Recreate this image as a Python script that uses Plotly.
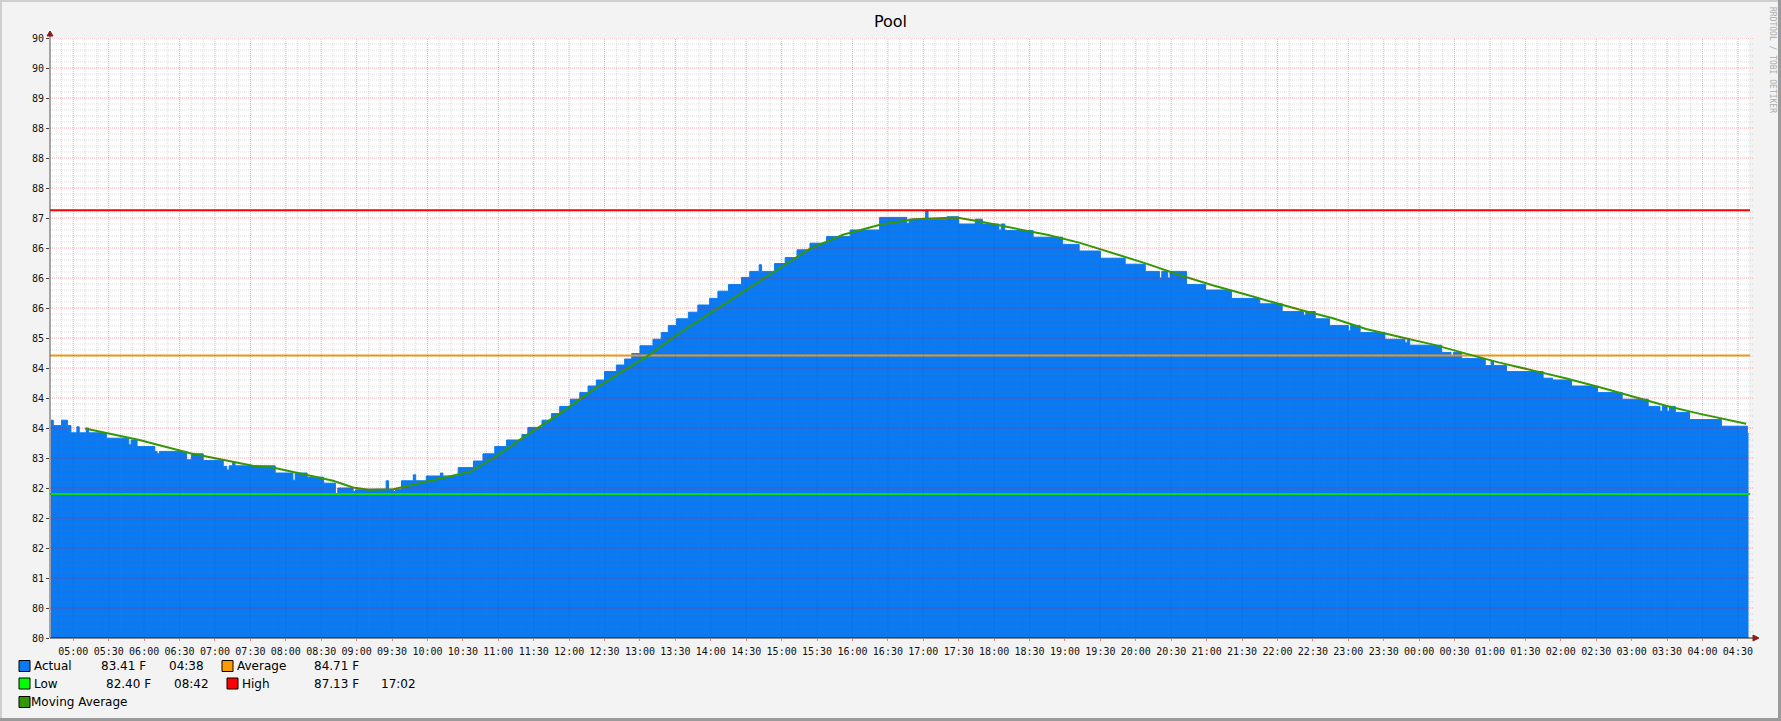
import plotly.graph_objects as go
from datetime import datetime, timedelta

# ---------------- data ----------------
ACTUAL_TIMES = [
    "04:41", "04:43", "04:50", "04:55", "04:58", "05:03", "05:05", "05:11", "05:13", "05:28",
    "05:47", "05:49", "05:54", "06:09", "06:11", "06:13", "06:36", "06:40", "06:50", "07:07",
    "07:10", "07:12", "07:15", "07:17", "07:51", "08:06", "08:08", "08:18", "08:32", "08:42",
    "08:44", "08:57", "08:59", "09:07", "09:25", "09:27", "09:31", "09:33", "09:38", "09:48",
    "09:50", "09:59", "10:11", "10:13", "10:26", "10:39", "10:47", "10:57", "11:07", "11:20",
    "11:25", "11:37", "11:45", "11:52", "12:01", "12:09", "12:16", "12:23", "12:30", "12:40",
    "12:47", "12:53", "13:00", "13:11", "13:18", "13:24", "13:31", "13:41", "13:49", "13:59",
    "14:06", "14:15", "14:26", "14:33", "14:41", "14:43", "14:54", "15:03", "15:13", "15:24",
    "15:38", "15:58", "16:23", "16:46", "16:48", "17:02", "17:04", "17:20", "17:30", "17:44",
    "17:50", "18:04", "18:06", "18:09", "18:33", "18:58", "19:12", "19:30", "19:51", "20:08",
    "20:20", "20:22", "20:27", "20:29", "20:43", "20:59", "21:21", "21:45", "22:04", "22:22",
    "22:24", "22:32", "22:44", "23:00", "23:02", "23:10", "23:31", "23:48", "23:50", "23:52",
    "00:19", "00:27", "00:29", "00:36", "00:56", "01:01", "01:03", "01:14", "01:45", "01:53",
    "02:09", "02:31", "02:52", "03:14", "03:24", "03:26", "03:30", "03:32", "03:37", "03:49",
    "04:16", "04:38", "04:39",
]
ACTUAL_VALUES = [
    83.63, 83.54, 83.63, 83.54, 83.42, 83.52, 83.42, 83.50, 83.42, 83.33,
    83.22, 83.30, 83.19, 83.11, 83.07, 83.11, 82.97, 83.07, 82.96, 82.86,
    82.80, 82.87, 82.94, 82.87, 82.75, 82.63, 82.75, 82.68, 82.58, 82.40,
    82.50, 82.44, 82.47, 82.48, 82.62, 82.48, 82.44, 82.48, 82.62, 82.72,
    82.62, 82.70, 82.75, 82.70, 82.84, 82.95, 83.07, 83.19, 83.30, 83.39,
    83.51, 83.63, 83.74, 83.86, 83.98, 84.09, 84.20, 84.30, 84.44, 84.55,
    84.65, 84.74, 84.87, 84.98, 85.09, 85.21, 85.32, 85.43, 85.55, 85.66,
    85.78, 85.89, 86.01, 86.11, 86.22, 86.11, 86.24, 86.34, 86.47, 86.58,
    86.69, 86.80, 87.01, 86.91, 86.98, 87.13, 86.98, 87.02, 86.90, 86.98,
    86.90, 86.80, 86.90, 86.79, 86.68, 86.56, 86.45, 86.33, 86.23, 86.11,
    86.00, 86.11, 86.00, 86.11, 85.89, 85.80, 85.66, 85.57, 85.44, 85.38,
    85.44, 85.32, 85.21, 85.12, 85.21, 85.09, 84.98, 84.92, 84.98, 84.88,
    84.76, 84.70, 84.76, 84.66, 84.54, 84.62, 84.54, 84.44, 84.33, 84.30,
    84.20, 84.09, 83.98, 83.86, 83.78, 83.86, 83.78, 83.86, 83.76, 83.64,
    83.53, 83.41, 83.41,
]
MA_TIMES = [
    "05:10", "05:56", "06:39", "07:07", "07:32", "07:49", "08:18", "08:40", "08:57", "09:10",
    "09:31", "09:56", "10:27", "10:36", "10:56", "11:24", "11:52", "12:20", "12:49", "13:08",
    "13:31", "13:59", "14:27", "14:56", "15:24", "15:52", "16:24", "16:52", "17:28", "17:48",
    "18:17", "18:45", "19:12", "19:41", "20:09", "20:37", "21:05", "21:34", "22:02", "22:19",
    "22:47", "23:15", "23:43", "00:12", "00:49", "01:08", "01:36", "02:04", "02:33", "03:01",
    "03:29", "03:57", "04:37",
]
MA_VALUES = [
    83.49, 83.30, 83.08, 82.97, 82.87, 82.84, 82.72, 82.62, 82.51, 82.47,
    82.48, 82.59, 82.73, 82.77, 83.00, 83.38, 83.74, 84.13, 84.49, 84.72,
    85.05, 85.41, 85.77, 86.13, 86.49, 86.72, 86.89, 86.98, 87.01, 86.94,
    86.83, 86.72, 86.59, 86.41, 86.24, 86.05, 85.88, 85.72, 85.56, 85.47,
    85.33, 85.15, 85.02, 84.89, 84.69, 84.59, 84.46, 84.33, 84.18, 84.02,
    83.87, 83.74, 83.57,
]
AVERAGE = 84.71
LOW = 82.40
HIGH = 87.13

LEGEND_ROWS = [
    # (swatch colour, label, value text, time text)
    ("#087AF5", "Actual", "83.41 F", "04:38"),
    ("#FF9900", "Average", "84.71 F", ""),
    ("#00FF00", "Low", "82.40 F", "08:42"),
    ("#FF0000", "High", "87.13 F", "17:02"),
    ("#339900", "Moving Average", "", ""),
]

Y_TICK_VALUES = [80.0, 80.5, 81.0, 81.5, 82.0, 82.5, 83.0, 83.5, 84.0, 84.5, 85.0,
                 85.5, 86.0, 86.5, 87.0, 87.5, 88.0, 88.5, 89.0, 89.5, 90.0]
Y_TICK_LABELS = ["80", "80", "81", "82", "82", "82", "83", "84", "84", "84", "85",
                 "86", "86", "86", "87", "88", "88", "88", "89", "90", "90"]

# ---------------- helpers ----------------
BASE = datetime(2024, 6, 1)
START = BASE + timedelta(hours=4, minutes=40, seconds=15)
END = START + timedelta(hours=24)


def to_dt(hm):
    h, m = map(int, hm.split(":"))
    d = BASE + timedelta(hours=h, minutes=m)
    if (h, m) < (4, 40):
        d += timedelta(days=1)
    return d


W, H = 1781, 721
L, R, T, B = 50, 1750, 38, 638


def px(x):
    return (x - L) / (R - L)


def py(y):
    return (B - y) / (B - T)


actual_x = [to_dt(t) for t in ACTUAL_TIMES]
ma_x = [to_dt(t) for t in MA_TIMES]

fig = go.Figure()
fig.add_trace(go.Scatter(x=actual_x, y=ACTUAL_VALUES, mode="lines", line_shape="hv",
                         line=dict(color="#087AF5", width=1), fill="tozeroy",
                         fillcolor="#087AF5", hoverinfo="skip"))
for val, col in [(AVERAGE, "#F7980F"), (LOW, "#00E600"), (HIGH, "#FF0000")]:
    fig.add_trace(go.Scatter(x=[START, END], y=[val, val], mode="lines",
                             line=dict(color=col, width=2), hoverinfo="skip"))
fig.add_trace(go.Scatter(x=ma_x, y=MA_VALUES, mode="lines",
                         line=dict(color="#339900", width=2), hoverinfo="skip"))

shapes = []
# grid (drawn above the area, like rrdtool)
for i in range(1, 101):
    v = 80 + i * 0.1
    major = i % 5 == 0
    shapes.append(dict(type="line", xref="paper", yref="y", x0=0, x1=1.002, y0=v, y1=v,
                       layer="above",
                       line=dict(color="rgba(255,0,0,0.33)" if major else "rgba(120,120,120,0.25)",
                                 width=1, dash="1px,1px")))
t = BASE + timedelta(hours=4, minutes=50)
while t < END:
    major = t.minute % 30 == 0
    shapes.append(dict(type="line", xref="x", yref="paper", x0=t, x1=t, y0=0, y1=1,
                       layer="above",
                       line=dict(color="rgba(255,0,0,0.33)" if major else "rgba(120,120,120,0.25)",
                                 width=1, dash="1px,1px")))
    t += timedelta(minutes=10)

# axes with arrows
shapes.append(dict(type="line", xref="paper", yref="paper", x0=px(50), x1=px(1756),
                   y0=py(638), y1=py(638), line=dict(color="#1a1a1a", width=1)))
shapes.append(dict(type="line", xref="paper", yref="paper", x0=px(50), x1=px(50),
                   y0=py(638), y1=py(34), line=dict(color="#555555", width=1)))
shapes.append(dict(type="path", xref="paper", yref="paper", fillcolor="#8B1A1A",
                   line=dict(color="#8B1A1A", width=1),
                   path=f"M {px(1759)} {py(638)} L {px(1753)} {py(635)} L {px(1753)} {py(641)} Z"))
shapes.append(dict(type="path", xref="paper", yref="paper", fillcolor="#8B1A1A",
                   line=dict(color="#8B1A1A", width=1),
                   path=f"M {px(50)} {py(31)} L {px(47)} {py(36)} L {px(53)} {py(36)} Z"))

# frame
shapes.append(dict(type="line", xref="paper", yref="paper", x0=px(0), x1=px(W), y0=py(1), y1=py(1),
                   line=dict(color="#CFCFCF", width=2)))
shapes.append(dict(type="line", xref="paper", yref="paper", x0=px(1), x1=px(1), y0=py(0), y1=py(H),
                   line=dict(color="#CFCFCF", width=2)))
shapes.append(dict(type="line", xref="paper", yref="paper", x0=px(0), x1=px(W), y0=py(H - 1.5), y1=py(H - 1.5),
                   line=dict(color="#9A9A9A", width=3)))
shapes.append(dict(type="line", xref="paper", yref="paper", x0=px(W - 1.5), x1=px(W - 1.5), y0=py(0), y1=py(H),
                   line=dict(color="#9A9A9A", width=3)))

annotations = []
LEG_FONT = dict(family="DejaVu Sans", size=12, color="#000000")
# legend layout positions (pixels)
legend_pos = [
    # swatch x, row y, label x, value x, time x
    (19, 666, 32, 99, 167),
    (222, 666, 235, 312, None),
    (19, 683.5, 32, 104, 172),
    (227, 683.5, 240, 312, 379),
    (19, 702, 29, None, None),
]
for (col, label, val, tm), (sx, ry, lx, vx, tx) in zip(LEGEND_ROWS, legend_pos):
    shapes.append(dict(type="rect", xref="paper", yref="paper", x0=px(sx), x1=px(sx + 11),
                       y0=py(ry + 5.5), y1=py(ry - 5.5), fillcolor=col,
                       line=dict(color="#000000", width=1)))
    for txt, xx in [(label, lx), (val, vx), (tm, tx)]:
        if txt and xx is not None:
            annotations.append(dict(text=txt, xref="paper", yref="paper", x=px(xx), y=py(ry),
                                    xanchor="left", yanchor="middle", showarrow=False,
                                    font=LEG_FONT))

annotations.append(dict(text="RRDTOOL / TOBI OETIKER", xref="paper", yref="paper",
                        x=px(1772), y=py(60), textangle=90, showarrow=False,
                        xanchor="center", yanchor="middle",
                        font=dict(family="DejaVu Sans Mono", size=8, color="#ABABAB")))

fig.update_layout(
    width=W, height=H, autosize=False,
    margin=dict(l=L, r=W - R, t=T, b=H - B, pad=0),
    paper_bgcolor="#F3F3F3", plot_bgcolor="#FFFFFF",
    showlegend=False,
    title=dict(text="Pool", x=0.5, xanchor="center", y=1 - 21.5 / H, yanchor="middle",
               font=dict(family="DejaVu Sans", size=16, color="#000000")),
    shapes=shapes, annotations=annotations,
    xaxis=dict(type="date", range=[START, END], showgrid=False, zeroline=False,
               showline=False, tickformat="%H:%M", dtick=30 * 60 * 1000,
               tick0=BASE + timedelta(hours=5), ticks="outside", ticklen=2,
               tickcolor="#F08080", tickfont=dict(family="DejaVu Sans Mono", size=10, color="#111111"),
               ticklabelstandoff=2),
    yaxis=dict(range=[80, 90], showgrid=False, zeroline=False, showline=False,
               tickmode="array", tickvals=Y_TICK_VALUES, ticktext=Y_TICK_LABELS,
               ticks="outside", ticklen=3, tickcolor="#444444",
               tickfont=dict(family="DejaVu Sans Mono", size=10, color="#111111")),
)

fig.write_html("out.html", config={"displayModeBar": False},
               post_script="document.body.style.margin='0';document.body.style.overflow='hidden';")
